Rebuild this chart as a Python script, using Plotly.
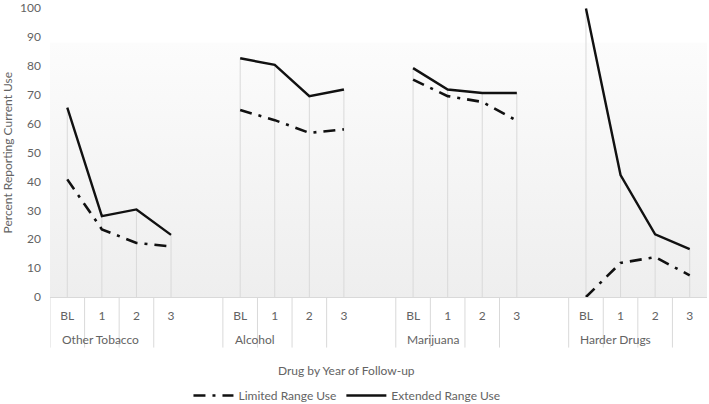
import plotly.graph_objects as go

groups = ["Other Tobacco", "Alcohol", "Marijuana", "Harder Drugs"]
years = ["BL", "1", "2", "3"]

limited = [
    [40.7, 23.4, 18.7, 17.5],
    [64.7, 61.2, 56.8, 58.0],
    [75.2, 69.5, 67.5, 61.0],
    [0.0, 11.8, 13.8, 7.5],
]
extended = [
    [65.5, 28.0, 30.3, 21.5],
    [82.6, 80.3, 69.5, 71.8],
    [79.2, 71.8, 70.6, 70.6],
    [99.8, 42.2, 21.7, 16.6],
]

y_ticks = list(range(0, 101, 10))

FONT = "Lato"
GRAY = "#636363"
LIGHT = "#d9d9d9"
FS = 12

slot = 5  # 4 years + 1 empty slot between groups
xs, lim_y, ext_y = [], [], []
tickvals, ticktext = [], []
drop_x, drop_y = [], []
for gi, g in enumerate(groups):
    for j, yr in enumerate(years):
        p = gi * slot + j
        xs.append(p)
        lim_y.append(limited[gi][j])
        ext_y.append(extended[gi][j])
        tickvals.append(p)
        ticktext.append(yr)
        drop_x += [p, p, None]
        drop_y += [0, max(limited[gi][j], extended[gi][j]), None]
    xs.append(None)
    lim_y.append(None)
    ext_y.append(None)

n_slots = len(groups) * slot - 1
xmin, xmax = -0.5, n_slots - 0.5

fig = go.Figure()

# plot-area gradient
fig.add_trace(go.Scatter(
    x=[xmin, xmax, xmax, xmin, xmin], y=[0, 0, 88, 88, 0],
    mode="lines", line=dict(width=0), fill="toself",
    fillgradient=dict(type="vertical", start=0, stop=88,
                      colorscale=[[0, "#eeeeee"], [1, "#fcfcfc"]]),
    hoverinfo="skip", showlegend=False))

# drop lines
fig.add_trace(go.Scatter(x=drop_x, y=drop_y, mode="lines",
                         line=dict(color=LIGHT, width=1),
                         hoverinfo="skip", showlegend=False))

fig.add_trace(go.Scatter(x=xs, y=lim_y, mode="lines", name="Limited Range Use",
                         line=dict(color="#111111", width=2.6, dash="12px,7px,3px,7px"),
                         connectgaps=False))
fig.add_trace(go.Scatter(x=xs, y=ext_y, mode="lines", name="Extended Range Use",
                         line=dict(color="#111111", width=2.4),
                         connectgaps=False))

# divider lines in category label area
shapes = []
for k in range(-1, n_slots):
    b = k + 0.5
    if (k % slot) == 3:
        continue
    shapes.append(dict(type="line", xref="x", yref="paper", x0=b, x1=b,
                       y0=0, y1=-0.175, line=dict(color=LIGHT, width=1)))

annotations = []
for gi, g in enumerate(groups):
    annotations.append(dict(text=g, x=gi * slot - 0.22, xref="x", xanchor="left",
                            y=-0.147, yref="paper", yanchor="middle",
                            showarrow=False, font=dict(family=FONT, size=FS, color=GRAY)))
annotations.append(dict(text="Drug by Year of Follow-up", x=0.452, xref="paper",
                        xanchor="center", y=-0.256, yref="paper", yanchor="middle",
                        showarrow=False, font=dict(family=FONT, size=FS, color=GRAY)))
annotations.append(dict(text="Percent Reporting Current Use", x=-0.064, xref="paper",
                        xanchor="center", y=0.5, yref="paper", yanchor="middle",
                        textangle=-90, showarrow=False,
                        font=dict(family=FONT, size=FS, color=GRAY)))

fig.update_layout(
    width=709, height=404,
    margin=dict(l=50, r=2, t=8, b=107, autoexpand=False),
    paper_bgcolor="white", plot_bgcolor="white",
    font=dict(family=FONT, size=FS, color=GRAY),
    shapes=shapes, annotations=annotations,
    legend=dict(orientation="h", x=0.452, xanchor="center", y=-0.341, yanchor="middle",
                font=dict(family=FONT, size=FS, color=GRAY), itemwidth=40,
                bgcolor="rgba(0,0,0,0)"),
)
fig.update_xaxes(range=[xmin, xmax], tickvals=tickvals, ticktext=ticktext,
                 showgrid=False, zeroline=False, showline=True, linecolor=LIGHT,
                 linewidth=1, ticks="", ticklabelstandoff=8, automargin=False,
                 ticklabeloverflow="allow",
                 tickfont=dict(family=FONT, size=FS, color=GRAY))
fig.update_yaxes(range=[0, 100], tickvals=y_ticks, showgrid=False, zeroline=False,
                 showline=False, ticks="", ticklabelstandoff=8, automargin=False,
                 ticklabeloverflow="allow",
                 tickfont=dict(family=FONT, size=FS, color=GRAY))

fig.write_html("out.html", config={"displayModeBar": False},
               post_script="document.body.style.margin='0px';document.body.style.overflow='hidden';")
